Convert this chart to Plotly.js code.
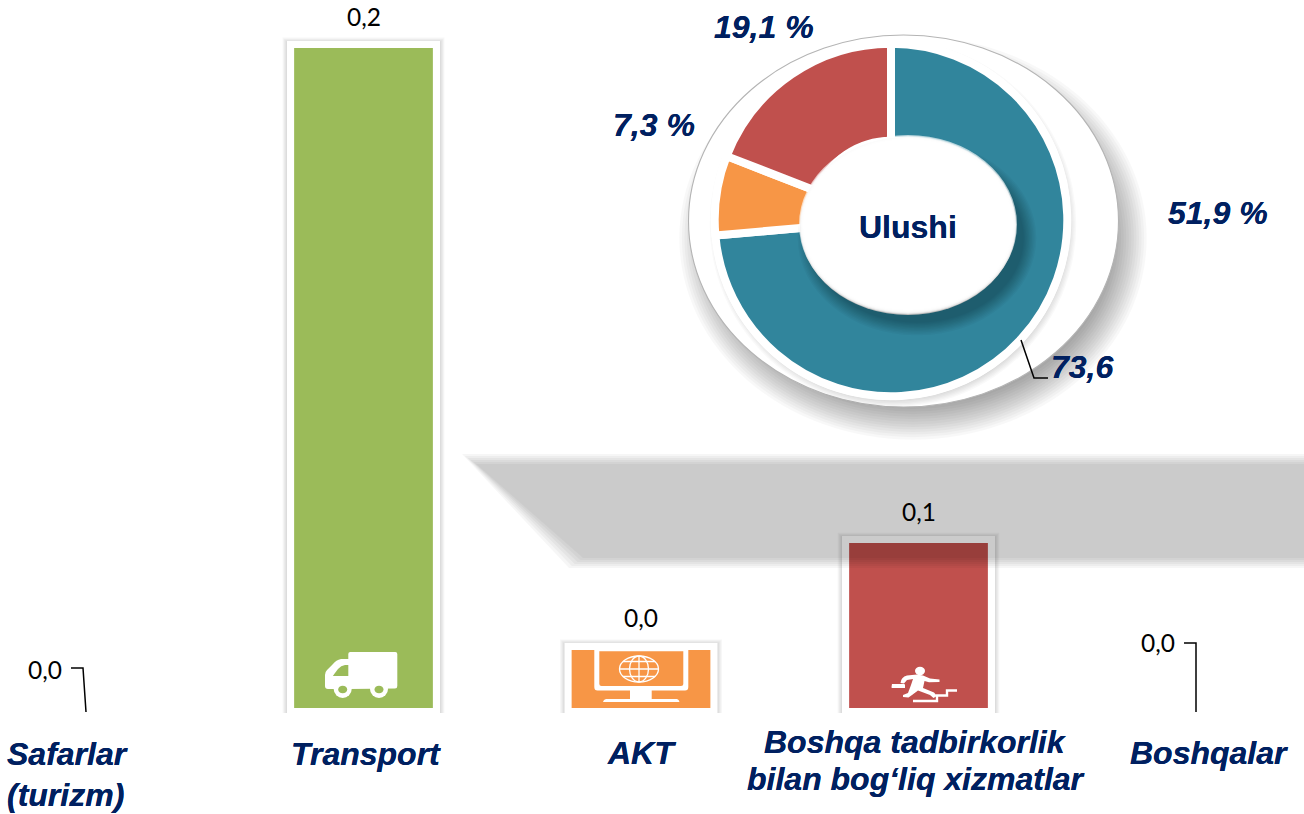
<!DOCTYPE html>
<html><head><meta charset="utf-8">
<script src="https://cdn.plot.ly/plotly-3.0.1.min.js"></script>
<style>html,body{margin:0;padding:0;background:#fff}#c{width:1304px;height:814px}</style>
</head><body><div id="c"></div>
<script>
// ---- data ----
const categories = ['Safarlar', 'Transport', 'AKT', 'Boshqa', 'Boshqalar'];
const tickLines = [['Safarlar','(turizm)'],['Transport'],['AKT'],['Boshqa tadbirkorlik','bilan bog‘liq xizmatlar'],['Boshqalar']];
const barValues = [0, 0.2, 0.0176, 0.05, 0];
const barLabels = ['0,0','0,2','0,0','0,1','0,0'];
const barColors = ['#9BBB59','#9BBB59','#F79646','#C0504D','#C0504D'];
const shareNames = ['Xizmatlar','AKT','Boshqa'];
const shareValues = [73.6, 7.3, 19.1];
const shareColors = ['#31859C','#F79646','#C0504D'];

const W=1304,H=814,NAVY='#002060';
const px=x=>x/W, py=y=>1-y/H;
const SCALE=3300;                 // pixels per unit on the y axis
const shapes=[];

function alphaStep(A,n){return 1-Math.pow(1-A,1/n);}
function ell(cx,cy,rx,ry,fill,layer,line){
  shapes.push({type:'circle',xref:'paper',yref:'paper',layer:layer||'below',
    x0:px(cx-rx),x1:px(cx+rx),y0:py(cy+ry),y1:py(cy-ry),fillcolor:fill,line:line||{width:0}});
}
function softEll(cx,cy,rx,ry,rgb,A,spread,n,layer){
  const a=alphaStep(A,n);
  for(let k=0;k<n;k++){const t=(k+.5)/n,d=spread*(1-2*t);
    ell(cx,cy,rx+d,ry+d,`rgba(${rgb},${a})`,layer);}
}
function P(str){ // absolute pixel path -> paper path
  let i=0;
  return str.replace(/-?\d+(\.\d+)?/g,m=>{const v=parseFloat(m);const r=(i++%2===0)?px(v):py(v);return r.toFixed(5);});
}
function path(d,fill,layer,line){
  shapes.push({type:'path',xref:'paper',yref:'paper',layer:layer||'above',path:P(d),
    fillcolor:fill,line:line||{width:0}});
}

// ---- disc behind the doughnut ----
softEll(913,238,212,180,'0,0,0',0.4,23,18);
ell(903.5,221,215,186,'#ffffff','below',{color:'#b4b4b4',width:1.1});
softEll(893,224,180,180,'0,0,0',0.14,4,6);
ell(891,220,180,180,'#ffffff');

// ---- white frames round the bars, tied to the bar values ----
barValues.forEach((v,i)=>{
  if(v<=0) return;
  const n=8,a=alphaStep(0.17,n);
  for(let k=0;k<n;k++){const t=(k+.5)/n,d=3*(1-2*t);
    shapes.push({type:'rect',layer:'below',xref:'x',yref:'y',xsizemode:'pixel',xanchor:i,
      x0:-78.5-d,x1:78.5+d,y0:-5/SCALE,y1:v+(8+d)/SCALE,fillcolor:`rgba(0,0,0,${a})`,line:{width:0}});
  }
  shapes.push({type:'rect',layer:'below',xref:'x',yref:'y',xsizemode:'pixel',xanchor:i,
    x0:-76.5,x1:76.5,y0:-7/SCALE,y1:v+7/SCALE,fillcolor:'#ffffff',line:{width:0}});
});

// ---- centre of the doughnut: shadow and raised ellipse ----
softEll(917,238,113,91,'0,0,0',0.27,7,10,'above');
ell(908,226,108,89,'#bdbdbd','above');
softEll(908,224.5,107,87.5,'255,255,255',0.995,2.5,5,'above');

// ---- leader lines ----
const LL={color:'#000',width:1.5};
path('M1021 340 L1034 378 L1048 378','rgba(0,0,0,0)','above',LL);
path('M71 668 L83 668 L86 712','rgba(0,0,0,0)','above',LL);
path('M1184 643 L1196 643 L1196 712','rgba(0,0,0,0)','above',LL);

// ---- icons ----
// truck
path('M348.3 654 Q348.3 652 350.3 652 L395.3 652 Q397.3 652 397.3 654 L397.3 686 Q397.3 688.5 395 688.5 L348.3 689 L328 689 Q325 689 325 686 L325 675 Q325 672 327 670 L333 664 Q336 660 341 659 L348.3 659 Z','#ffffff');
path('M332.8 676 L338 669 Q341 665.5 345 665 L348.3 665 L348.3 676 Z','#9BBB59');
ell(342.7,689,9,9,'#ffffff','above');
ell(379,689,9,9,'#ffffff','above');
ell(342.7,689.5,4.5,3.8,'#9BBB59','above');
ell(379,689.5,4.5,3.8,'#9BBB59','above');
// monitor
path('M594.3 650 L688.3 650 L688.3 687 Q688.3 690.5 685 690.5 L651.7 690.5 L651.7 699 L677 699 Q679 699.5 679.5 702 L603 702 Q603.5 699.5 606 699 L630 699 L630 690.5 L597.5 690.5 Q594.3 690.5 594.3 687 Z','#ffffff');
path('M599.3 651.2 L683.3 651.2 L683.3 684 Q683.3 686 681 686 L601.5 686 Q599.3 686 599.3 684 Z','#F79646');
const G={color:'#ffffff',width:1.3};
ell(639,669,19.5,13,'rgba(0,0,0,0)','above',G);
ell(639,669,9.5,13,'rgba(0,0,0,0)','above',G);
path('M639 656 L639 682','rgba(0,0,0,0)','above',G);
path('M619.5 669 L658.5 669','rgba(0,0,0,0)','above',G);
path('M623 661.5 L655 661.5','rgba(0,0,0,0)','above',G);
path('M623 676.5 L655 676.5','rgba(0,0,0,0)','above',G);
// runner on steps
ell(920,671,5,4.2,'#ffffff','above');
path('M900.5 683 Q901 677 907 675.5 L917 674.5 L923 675.5 L930 678.5 L939.5 679.5 L939.5 682 L929 682.2 L924.5 681 L923 688 L934 692.5 L937 696 L933.5 698 L930 695 L918 690.5 L912 695 L908.5 697.5 L903 697 L903 695 L908 693 L911 685 L913 679 L907 680 L904 683.5 Z','#ffffff');
path('M892 684 L904 684 Q905 684 905 685 L905 688 L892 688 Q891.5 688 891.5 687 Z','#ffffff');
path('M913 701 L937 701 L937 695.5 L947 695.5 L947 690.5 L957 690.5','rgba(0,0,0,0)','above',{color:'#ffffff',width:2.4});

// ---- grey band crossing the chart (multiplies whatever lies under it) ----
(function(){
  const n=6,a=alphaStep(0.2,n);
  for(let k=0;k<n;k++){const t=(k+.5)/n,d=6*(1-2*t);
    path(`M${469-d*1.4} ${459-d} L1310 ${459-d} L1310 ${563+d} L${576-d*1.4} ${563+d} Z`,`rgba(0,0,0,${a.toFixed(3)})`);
  }
})();

// ---- text ----
const annotations=[];
const bold=' 0 0 0.6px #002060';
const barLabelLift=[39,32,32,32,66];
const barLabelShift=[-41,0,0,0,-38];
barLabels.forEach((t,i)=>{
  annotations.push({xref:'x',yref:'y',x:i,y:barValues[i],text:t,showarrow:false,xanchor:'center',yanchor:'middle',
    xshift:barLabelShift[i],yshift:barLabelLift[i],font:{family:'Lato, Carlito, sans-serif',size:24.5,color:'#000'}});
});
const tickY=[[754,795],[754],[753],[742,779],[753]];
const tickShift=[0,2,0,-3,13];
const textFont={family:'Liberation Sans, Arial, sans-serif',size:32,color:NAVY,shadow:bold};
tickLines.forEach((lines,i)=>{
  lines.forEach((l,j)=>{
    const ann={xref:i===0?'paper':'x',yref:'paper',y:py(tickY[i][j]),text:'<b><i>'+l+'</i></b>',showarrow:false,yanchor:'middle',font:textFont};
    if(i===0){ann.x=px(5);ann.xanchor='left';}
    else{ann.x=i;ann.xanchor='center';ann.xshift=tickShift[i];}
    annotations.push(ann);
  });
});
const shareTexts=['73,6','7,3 %','19,1 %','51,9 %'];
const shareAt=[[1082,367],[654,125],[764,27],[1218,213]];
shareTexts.forEach((t,i)=>annotations.push({xref:'paper',yref:'paper',x:px(shareAt[i][0]),y:py(shareAt[i][1]),
  text:'<b><i>'+t+'</i></b>',showarrow:false,xanchor:'center',yanchor:'middle',font:textFont}));
annotations.push({xref:'paper',yref:'paper',x:px(908),y:py(227),text:'<b>Ulushi</b>',showarrow:false,xanchor:'center',yanchor:'middle',font:textFont});

// ---- traces ----
const R=176.3,CX=891,CY=220;
const bars={type:'bar',x:categories,y:barValues,width:0.5,marker:{color:barColors,line:{width:0}},hoverinfo:'skip',showlegend:false};
const pie={type:'pie',labels:shareNames,values:shareValues,sort:false,direction:'clockwise',rotation:0,hole:0.45,
  marker:{colors:shareColors,line:{color:'#ffffff',width:8}},textinfo:'none',showlegend:false,hoverinfo:'skip',
  domain:{x:[px(CX-R),px(CX+R)],y:[py(CY+R),py(CY-R)]}};

Plotly.newPlot('c',[bars,pie],{
  width:W,height:H,margin:{l:0,r:0,t:0,b:0,pad:0},paper_bgcolor:'#fff',plot_bgcolor:'rgba(0,0,0,0)',
  showlegend:false,
  xaxis:{type:'category',categoryorder:'array',categoryarray:categories,visible:false,range:[-86/277.5,(W-86)/277.5],fixedrange:true},
  yaxis:{visible:false,range:[(708-H)/SCALE,708/SCALE],fixedrange:true,zeroline:false},
  shapes,annotations
},{displayModeBar:false,staticPlot:true});
</script></body></html>
